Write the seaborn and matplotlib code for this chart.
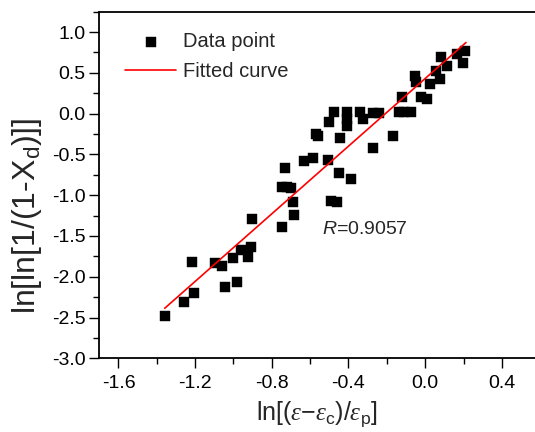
import matplotlib
matplotlib.use("Agg")
import matplotlib.pyplot as plt
import seaborn as sns
import numpy as np
import pandas as pd
from matplotlib.ticker import MultipleLocator

# ---- data ----
x_vals = [-1.359, -1.258, -1.205, -1.214, -1.096, -1.061, -1.043, -1.005, -0.981,
          -0.960, -0.923, -0.906, -0.901, -0.748, -0.685, -0.692, -0.749, -0.723,
          -0.700, -0.732, -0.634, -0.583, -0.493, -0.458, -0.449, -0.388, -0.509,
          -0.570, -0.558, -0.444, -0.501, -0.476, -0.407, -0.407, -0.406, -0.339,
          -0.326, -0.273, -0.239, -0.273, -0.169, -0.139, -0.109, -0.075, -0.122,
          -0.022, 0.012, -0.054, -0.049, 0.026, 0.077, 0.059, 0.082, 0.115,
          0.166, 0.208, 0.199]
y_vals = [-2.477, -2.313, -2.195, -1.822, -1.827, -1.867, -2.121, -1.769, -2.067,
          -1.671, -1.753, -1.638, -1.291, -1.393, -1.245, -1.079, -0.902, -0.902,
          -0.907, -0.669, -0.579, -0.546, -1.066, -1.086, -0.733, -0.800, -0.571,
          -0.248, -0.272, -0.297, -0.101, 0.022, 0.018, -0.064, -0.150, 0.018,
          -0.070, 0.013, 0.006, -0.423, -0.269, 0.018, 0.022, 0.018, 0.202,
          0.200, 0.182, 0.458, 0.390, 0.366, 0.427, 0.525, 0.697, 0.587,
          0.728, 0.764, 0.623]
fit_x = [-1.359, 0.213]
fit_y = [-2.387, 0.872]
x_ticks = [-1.6, -1.2, -0.8, -0.4, 0.0, 0.4]
y_ticks = [1.0, 0.5, 0.0, -0.5, -1.0, -1.5, -2.0, -2.5, -3.0]
r_label = "=0.9057"

df = pd.DataFrame({"x": x_vals, "y": y_vals})
fit_df = pd.DataFrame({"x": fit_x, "y": fit_y})

sns.set_style("ticks")
plt.rcParams["font.family"] = ["Liberation Sans", "DejaVu Sans"]
plt.rcParams["mathtext.fontset"] = "custom"
plt.rcParams["mathtext.rm"] = "Liberation Sans"
plt.rcParams["mathtext.it"] = "Liberation Sans:italic"
plt.rcParams["mathtext.cal"] = "Liberation Serif:italic"

fig = plt.figure(figsize=(5.35, 4.32), dpi=100)
ax = fig.add_axes([99.3 / 535, 1 - 358.3 / 432, 1 - 99.3 / 535, (358.3 - 11.7) / 432])

sns.scatterplot(data=df, x="x", y="y", marker="s", s=44, color="black",
                edgecolor="black", linewidth=0.3, ax=ax, label="Data point", zorder=3)
sns.lineplot(data=fit_df, x="x", y="y", color="red", linewidth=1.2, ax=ax,
             label="Fitted curve", zorder=4)

ax.set_xlim(-1.7, 0.573)
ax.set_ylim(-3.0, 1.25)
ax.set_xticks(x_ticks)
ax.set_xticklabels([f"{t:.1f}" for t in x_ticks])
ax.set_yticks(y_ticks)
ax.set_yticklabels([f"{t:.1f}" for t in y_ticks])
ax.xaxis.set_minor_locator(MultipleLocator(0.2))
ax.yaxis.set_minor_locator(MultipleLocator(0.25))
ax.tick_params(axis="both", which="major", direction="out", length=7, width=1.0,
               labelsize=14, color="black", labelcolor="black")
ax.tick_params(axis="both", which="minor", direction="out", length=4, width=1.0,
               color="black")
ax.tick_params(axis="x", pad=5)
ax.tick_params(axis="y", pad=3)
ax.tick_params(top=False, right=False, which="both")

for side in ["left", "bottom", "top"]:
    ax.spines[side].set_visible(True)
    ax.spines[side].set_linewidth(1.3)
    ax.spines[side].set_color("black")
ax.spines["right"].set_visible(False)

ax.set_xlabel(r"ln[($\mathcal{ε}$−$\mathcal{ε}_\mathrm{c}$)/$\mathcal{ε}_\mathrm{p}$]",
              fontsize=18, labelpad=5)
ax.set_ylabel(r"ln[ln[1/(1-X$_\mathrm{d}$)]]", fontsize=23)
ax.yaxis.set_label_coords(-0.128, 0.41)

ax.text(-0.536, -1.426, r"$\mathit{R}$" + r_label, fontsize=14, ha="left", va="center")

leg = ax.legend(loc="upper left", bbox_to_anchor=(0.06, 0.94), frameon=False,
                fontsize=14.5, handlelength=2.5, handletextpad=0.35, labelspacing=0.5,
                borderpad=0, borderaxespad=0, markerscale=1.0)

fig.savefig("out.png", dpi=100)
